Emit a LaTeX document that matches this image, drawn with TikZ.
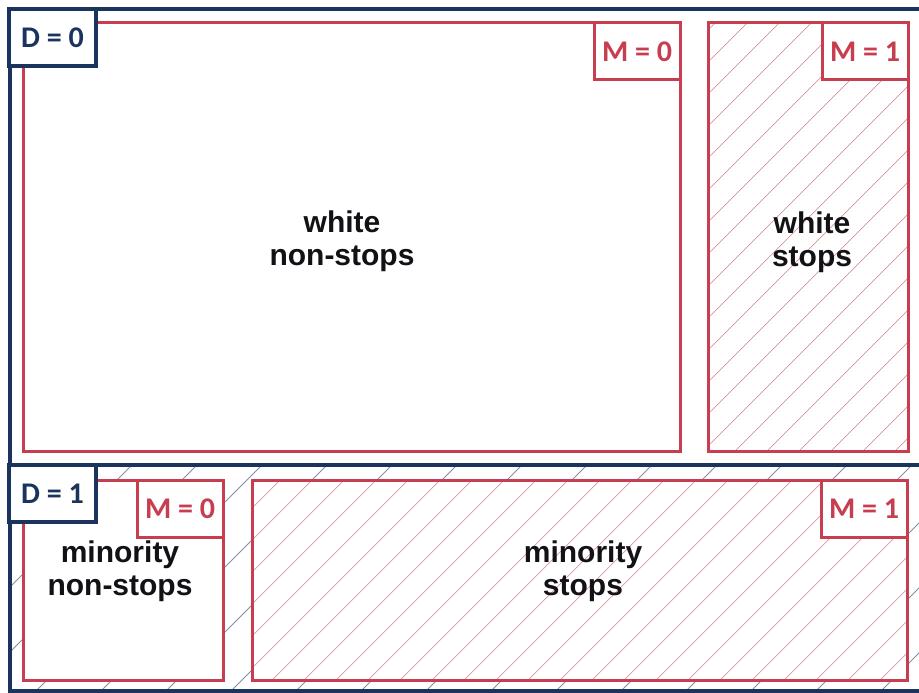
\documentclass[tikz,border=0pt]{standalone}
\usepackage{fontspec}
\setmainfont{Liberation Sans}
\newfontfamily\tagfont{Carlito}
\definecolor{navy}{RGB}{27,52,94}
\definecolor{crimson}{RGB}{198,62,80}
\definecolor{ink}{RGB}{18,18,22}

\begin{document}
\begin{tikzpicture}[x=1pt,y=-1pt,
  every node/.style={inner sep=0pt, outer sep=0pt},
  frame/.style={draw=navy, line width=3.5pt, anchor=north west},
  dtag/.style={draw=navy, fill=white, line width=3.5pt, anchor=north west,
    minimum width=87pt, minimum height=57pt, text=navy,
    font=\tagfont\bfseries\fontsize{30}{30}\selectfont},
  region/.style={draw=crimson, line width=3pt, anchor=north west},
  mtag/.style={draw=crimson, fill=white, line width=3pt, anchor=north east,
    minimum width=86pt, minimum height=57pt, text=crimson,
    font=\tagfont\bfseries\fontsize{30}{30}\selectfont},
  caption/.style={align=center, text=ink,
    font=\bfseries\fontsize{30}{33}\selectfont},
  navyhatch/.style={draw=navy!55, line width=0.8pt},
  redhatch/.style={draw=crimson!55, line width=0.7pt}]

\useasboundingbox (0,0) rectangle (919,693);
\clip (0,0) rectangle (919,693);

% the two stripes of the table: D = 0 above, D = 1 below
\path (10,9) coordinate (d0nw) (925,465) coordinate (d0se)
      (10,465) coordinate (d1nw) (925,691) coordinate (d1se);

% light navy hatching behind the D = 1 stripe
\begin{scope}
  \clip (d1nw) rectangle (d1se);
  \foreach \k in {-3,...,18}
    \draw[navyhatch] (597+65*\k,0) -- ++(-900,900);
\end{scope}

% red cells (white fill covers the navy hatching)
\node[region, fill=white, minimum width=657pt, minimum height=428pt] (wns) at (23,23) {};
\node[region, fill=white, minimum width=200pt, minimum height=428pt] (ws)  at (708,23) {};
\node[region, fill=white, minimum width=200pt, minimum height=200pt] (mns) at (23,480) {};
\node[region, fill=white, minimum width=655pt, minimum height=200pt] (ms)  at (252,480) {};

% red hatching for the M = 1 cells
\begin{scope}
  \clip (ws.south west) rectangle (ws.north east);
  \foreach \k in {-3,...,22}
    \draw[redhatch] (770+32*\k,0) -- ++(-900,900);
\end{scope}
\begin{scope}
  \clip (ms.south west) rectangle (ms.north east);
  \foreach \k in {-2,...,30}
    \draw[redhatch] (728+32*\k,0) -- ++(-900,900);
\end{scope}

% redraw cell borders over the hatching
\foreach \c in {wns,ws,mns,ms}
  \draw[draw=crimson, line width=3pt] (\c.north west) rectangle (\c.south east);

% M tags in the top right corner of each cell
\node[mtag] (m0a) at (wns.north east) {M = 0};
\node[mtag] (m1a) at (ws.north east)  {M = 1};
\node[mtag] (m0b) at (mns.north east) {M = 0};
\node[mtag] (m1b) at (ms.north east)  {M = 1};

% cell captions
\node[caption] (t1) at (342,241)   {white\\non-stops};
\node[caption] (t2) at (812,242)   {white\\stops};
\node[caption] (t3) at (120,571)   {minority\\non-stops};
\node[caption] (t4) at (583,571)   {minority\\stops};

% navy stripes and their D tags
\node[frame, minimum width=915pt, minimum height=456pt] (d0) at (d0nw) {};
\node[frame, minimum width=915pt, minimum height=226pt] (d1) at (d1nw) {};
\node[dtag] (dt0) at (9,9)   {D = 0};
\node[dtag] (dt1) at (9,465) {D = 1};

\end{tikzpicture}
\end{document}
